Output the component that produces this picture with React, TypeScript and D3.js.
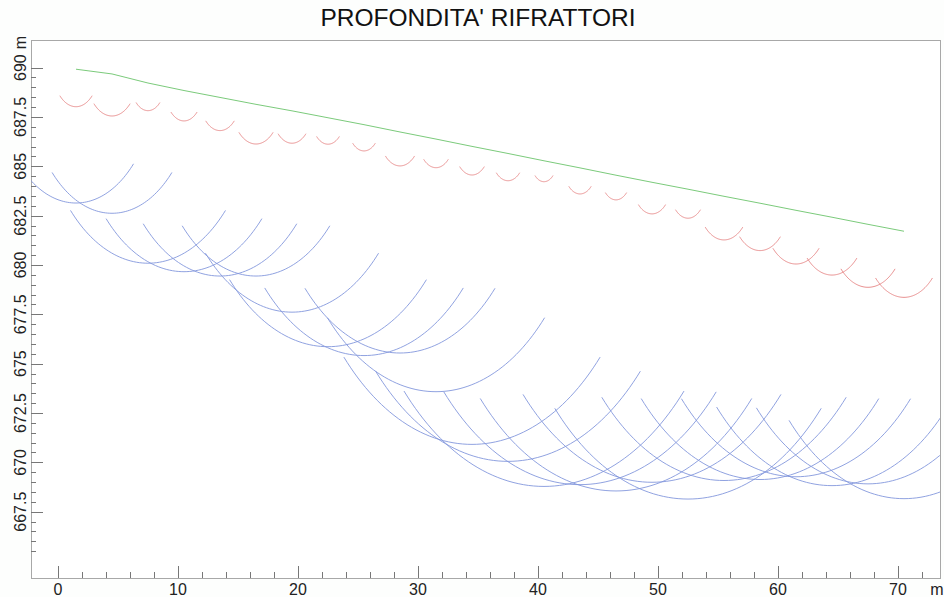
import { useEffect, useRef } from "react";
import * as d3 from "d3";

const title = "PROFONDITA' RIFRATTORI";

// geophone positions along the line (m)
const stations = [
  1.5, 4.5, 7.5, 10.5, 13.5, 16.5, 19.5, 22.5, 25.5, 28.5, 31.5, 34.5,
  37.5, 40.5, 43.5, 46.5, 49.5, 52.5, 55.5, 58.5, 61.5, 64.5, 67.5, 70.5,
];

// ground elevation at each geophone (m)
const surface = [
  689.92, 689.68, 689.22, 688.84, 688.49, 688.14, 687.81, 687.46, 687.11,
  686.74, 686.38, 686.01, 685.65, 685.28, 684.92, 684.55, 684.19, 683.84,
  683.48, 683.13, 682.77, 682.42, 682.06, 681.71,
];

// depth of first refractor below each geophone (m)
const depth1 = [
  1.9, 2.13, 1.4, 1.54, 1.68, 2.01, 1.64, 1.34, 1.33, 1.72, 1.45, 1.45,
  1.38, 1.06, 1.32, 1.25, 1.6, 1.47, 2.21, 2.4, 2.72, 2.93, 3.19, 3.35,
];

// depth of second refractor below each geophone (m)
const depth2 = [
  6.78, 7.06, 9.13, 9.18, 9.05, 8.7, 10.2, 11.6, 11.7, 11.2, 12.8, 15.1,
  15.6, 16.5, 16.05, 16.0, 15.2, 15.7, 14.4, 14.0, 13.5, 13.6, 13.15, 13.55,
];

const xTickLabels = [0, 10, 20, 30, 40, 50, 60, 70];
const yTickLabels = [667.5, 670, 672.5, 675, 677.5, 680, 682.5, 685, 687.5, 690];

const HALF_ANGLE = 45; // degrees each side of the vertical

export default function App() {
  const svgRef = useRef<SVGSVGElement>(null);

  useEffect(() => {
    draw();
  }, []);

  function draw() {
    const svg = d3.select(svgRef.current);
    svg.selectAll("*").remove();

    const width = 944;
    const height = 597;
    const left = 31, right = 940, top = 40, bottom = 578;

    svg.attr("width", width).attr("height", height);

    const x = d3.scaleLinear().domain([-2.25, 73.5]).range([left, right]);
    const y = d3.scaleLinear().domain([664.14, 691.4]).range([bottom, top]);

    svg.append("rect")
      .attr("width", width)
      .attr("height", height)
      .attr("fill", "#fdfefd");

    svg.append("text")
      .attr("x", 478)
      .attr("y", 26)
      .attr("text-anchor", "middle")
      .style("font-family", "'Liberation Sans', Arial, sans-serif")
      .style("font-size", "24.5px")
      .style("fill", "#111")
      .text(title);

    svg.append("defs")
      .append("clipPath")
      .attr("id", "plot-clip")
      .append("rect")
      .attr("x", left)
      .attr("y", top)
      .attr("width", right - left)
      .attr("height", bottom - top);

    // frame
    svg.append("rect")
      .attr("x", left + 0.5)
      .attr("y", top + 0.5)
      .attr("width", right - left)
      .attr("height", bottom - top)
      .attr("fill", "white")
      .attr("stroke", "#a8a8a8")
      .attr("stroke-width", 1);

    const axisColor = "#777";

    // x ticks (pointing up into the plot)
    const xMinor = d3.range(0, 73, 2);
    svg.append("g")
      .selectAll("line")
      .data(xMinor)
      .join("line")
      .attr("x1", d => Math.round(x(d)) + 0.5)
      .attr("x2", d => Math.round(x(d)) + 0.5)
      .attr("y1", bottom)
      .attr("y2", d => bottom - (d % 10 === 0 ? 12 : 6))
      .attr("stroke", axisColor);

    // y ticks (pointing right into the plot)
    const yMinor = d3.range(665.5, 690.01, 0.5);
    svg.append("g")
      .selectAll("line")
      .data(yMinor)
      .join("line")
      .attr("y1", d => Math.round(y(d)) + 0.5)
      .attr("y2", d => Math.round(y(d)) + 0.5)
      .attr("x1", left)
      .attr("x2", d => left + (Math.abs(d / 2.5 - Math.round(d / 2.5)) < 1e-6 ? 12 : 5))
      .attr("stroke", axisColor);

    const labelStyle = (sel: any) =>
      sel
        .style("font-family", "'Liberation Sans', Arial, sans-serif")
        .style("font-size", "16px")
        .style("fill", "#222");

    svg.append("g")
      .selectAll("text")
      .data(xTickLabels)
      .join("text")
      .attr("x", d => x(d))
      .attr("y", 595)
      .attr("text-anchor", "middle")
      .call(labelStyle)
      .text(d => d);

    svg.append("text")
      .attr("x", 937)
      .attr("y", 595)
      .attr("text-anchor", "middle")
      .call(labelStyle)
      .text("m");

    svg.append("g")
      .selectAll("text")
      .data(yTickLabels)
      .join("text")
      .attr("transform", d => `translate(26,${y(d)}) rotate(-90)`)
      .attr("text-anchor", "middle")
      .call(labelStyle)
      .text(d => d);

    svg.append("text")
      .attr("transform", "translate(26,42.5) rotate(-90)")
      .attr("text-anchor", "middle")
      .call(labelStyle)
      .text("m");

    const plot = svg.append("g").attr("clip-path", "url(#plot-clip)");

    const line = d3.line<[number, number]>()
      .x(d => x(d[0]))
      .y(d => y(d[1]));

    // circle arc of radius r centred on the geophone, +-45deg about the vertical
    const angles = d3.range(-HALF_ANGLE, HALF_ANGLE + 0.01, 1.5);
    const arcPoints = (i: number, r: number): [number, number][] =>
      angles.map(a => {
        const t = (a * Math.PI) / 180;
        return [stations[i] + r * Math.sin(t), surface[i] - r * Math.cos(t)];
      });

    plot.append("g")
      .selectAll("path")
      .data(depth2)
      .join("path")
      .attr("d", (r, i) => line(arcPoints(i, r)))
      .attr("fill", "none")
      .attr("stroke", "#8397dc")
      .attr("stroke-width", 0.9);

    plot.append("g")
      .selectAll("path")
      .data(depth1)
      .join("path")
      .attr("d", (r, i) => line(arcPoints(i, r)))
      .attr("fill", "none")
      .attr("stroke", "#e58585")
      .attr("stroke-width", 0.9);

    plot.append("path")
      .attr("d", line(stations.map((s, i) => [s, surface[i]] as [number, number])))
      .attr("fill", "none")
      .attr("stroke", "#6cc46c")
      .attr("stroke-width", 0.9);
  }

  return (
    <svg
      ref={svgRef}
      style={{ position: "absolute", left: 0, top: 0, display: "block" }}
    ></svg>
  );
}
